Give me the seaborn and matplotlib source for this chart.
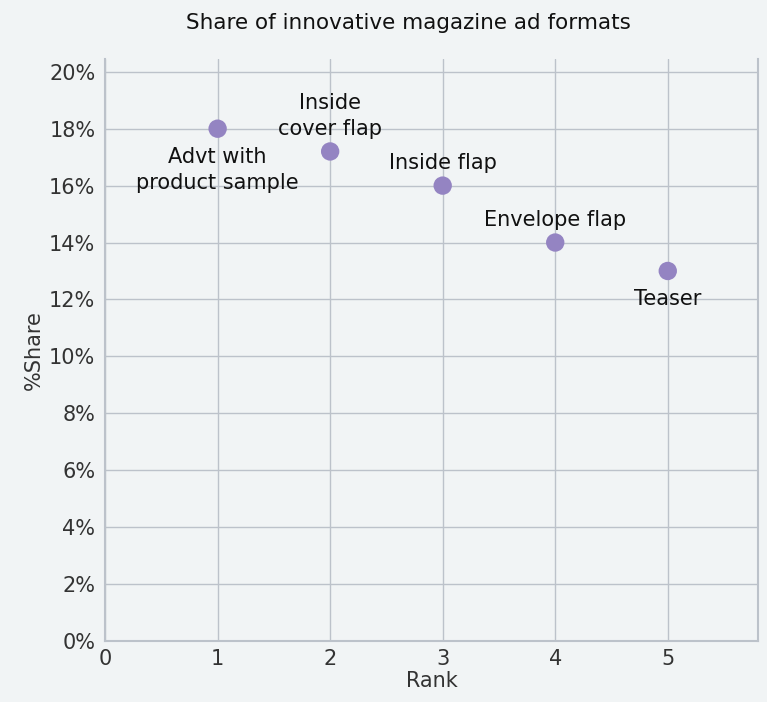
import seaborn as sns
import pandas as pd
import matplotlib.pyplot as plt
from matplotlib.ticker import FuncFormatter

# chart data
ranks = [1, 2, 3, 4, 5]
shares = [18.0, 17.2, 16.0, 14.0, 13.0]
formats = ["Advt with\nproduct sample", "Inside\ncover flap", "Inside flap", "Envelope flap", "Teaser"]
label_above = [False, True, True, True, False]

df = pd.DataFrame({"Rank": ranks, "Share": shares, "Format": formats})

bg = "#f1f4f5"
grid_col = "#bcc2ca"
sns.set_style("whitegrid", {"axes.facecolor": bg, "figure.facecolor": bg,
                            "grid.color": grid_col, "axes.edgecolor": grid_col})
plt.rcParams["font.family"] = ["DejaVu Sans"]

fig = plt.figure(figsize=(7.67, 7.02), dpi=100)
ax = fig.add_axes([0.137, 0.087, 0.851, 0.829])

sns.scatterplot(data=df, x="Rank", y="Share", ax=ax, color="#9484c2", s=175,
                edgecolor="none", zorder=3)

for r, s, t, up in zip(df["Rank"], df["Share"], df["Format"], label_above):
    ax.annotate(t, (r, s), xytext=(0, 9 if up else -13), textcoords="offset points",
                ha="center", va="bottom" if up else "top", fontsize=15,
                color="#111111", linespacing=1.4)

ax.set_xlim(0, 5.8)
ax.set_ylim(0, 20.45)
ax.set_xticks(range(0, 6))
ax.set_yticks(range(0, 21, 2))
ax.yaxis.set_major_formatter(FuncFormatter(lambda v, p: f"{int(v)}%"))
ax.tick_params(labelsize=15, colors="#333333", length=0)
ax.tick_params(axis="y", pad=7)
ax.tick_params(axis="x", pad=6)
ax.grid(True, color=grid_col, linewidth=1.0)
ax.spines["top"].set_visible(False)
for side in ["left", "bottom", "right"]:
    ax.spines[side].set_color(grid_col)
    ax.spines[side].set_linewidth(1.5)

ax.set_xlabel("Rank", fontsize=15, color="#333333", labelpad=1)
ax.set_ylabel("%Share", fontsize=15, color="#333333", labelpad=4)
fig.suptitle("Share of innovative magazine ad formats", fontsize=15.5, x=0.532, y=0.982,
             color="#111111")

plt.savefig("out.png", dpi=100, facecolor=bg)
